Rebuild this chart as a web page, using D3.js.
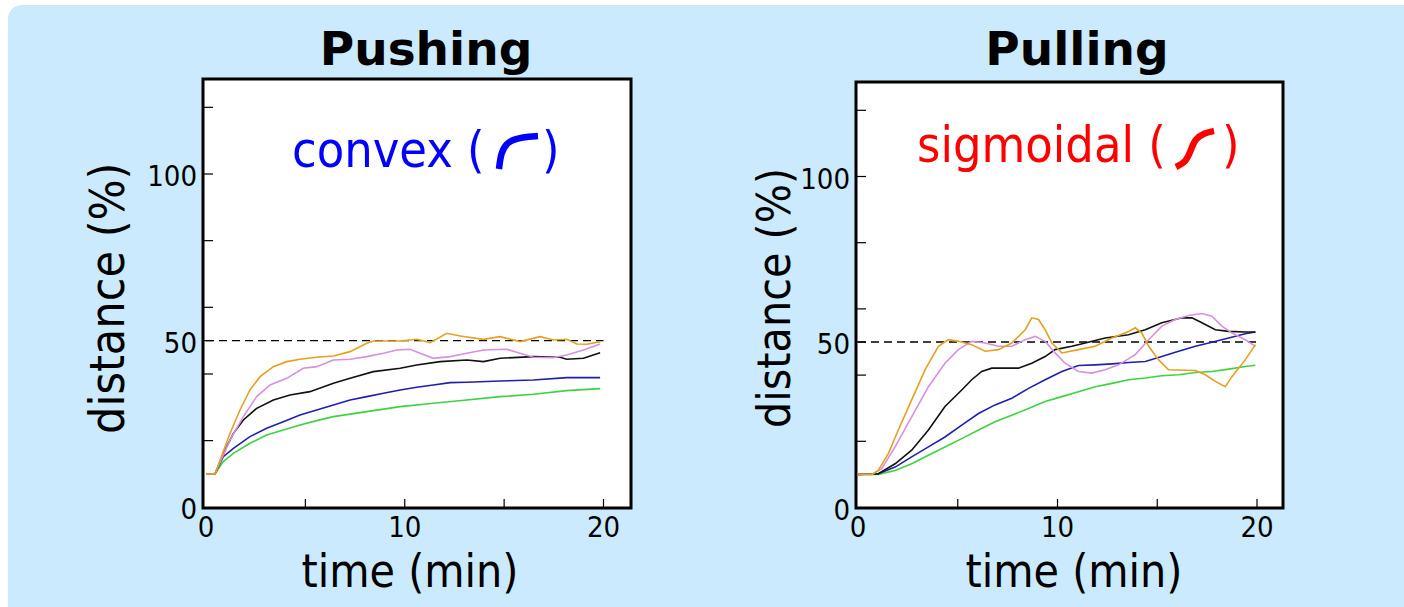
<!DOCTYPE html>
<html>
<head>
<meta charset="utf-8">
<script src="https://cdn.jsdelivr.net/npm/d3@7/dist/d3.min.js"></script>
<style>
    body { margin: 0; background: #fff; }
    svg text { font-family: 'DejaVu Sans Condensed', 'DejaVu Sans', sans-serif; font-stretch: condensed; }
</style>
</head>
<body>
<svg id="chart"></svg>
<script>
// tick values
const timeLabels = [0, 10, 20];
const timeMarks = [5, 10, 15, 20];
const distLabels = [0, 50, 100];
const distMarks = [20, 40, 50, 60, 80, 100, 120];

// [time (min), distance (%)]
const pushOrange = [[0,10],[0.45,10],[1.21,22.2],[1.71,29.2],[2.21,35.2],[2.72,39.2],[3.39,42.2],[4.06,43.7],[4.73,44.4],[5.57,45],[6.41,45.4],[7.25,46.7],[8.09,49.2],[8.42,49.9],[9.77,49.9],[10.6,50.4],[11.28,49.4],[12.11,52.2],[12.79,51.4],[13.96,50.4],[14.8,51.2],[15.8,49.7],[16.8,51.2],[17.5,50.2],[18.15,50.4],[18.66,49],[19.16,48.9],[19.83,49.7]];
const pushViolet = [[0,10],[0.45,10],[1.21,20.2],[1.88,27.2],[2.55,33.2],[3.22,36.7],[4.06,38.7],[4.9,41.7],[5.57,42.2],[6.41,44.2],[7.25,44.4],[8.09,45.2],[8.93,46.2],[9.6,47.2],[10.27,47.4],[10.77,46.2],[11.44,44.7],[12.28,45.2],[13.12,46.2],[13.96,47.2],[15.13,47.4],[15.8,46.2],[16.47,45],[17.48,44.9],[18.15,45.7],[18.99,47.2],[19.83,49]];
const pushBlack = [[0,10],[0.45,10],[1.04,18.2],[1.38,22.2],[1.88,26.2],[2.55,29.7],[3.39,32.2],[4.23,33.7],[5.23,34.7],[6.41,37.2],[7.25,38.7],[8.42,40.7],[9.77,41.7],[10.6,42.7],[11.78,43.7],[13.12,44.2],[13.96,43.7],[14.8,44.7],[16.47,45.2],[17.82,45],[18.15,44.4],[18.99,44.7],[19.83,46.4]];
const pushBlue = [[0,10],[0.45,10],[0.87,15.2],[1.38,17.7],[2.21,21.2],[3.05,23.7],[3.89,25.7],[4.73,27.7],[5.57,29.2],[6.41,30.7],[7.25,32.2],[8.09,33.2],[8.93,34.2],[9.77,35.2],[10.6,36],[11.44,36.7],[12.28,37.4],[13.12,37.5],[14.8,37.9],[16.47,38.2],[18.15,38.9],[19.83,38.9]];
const pushGreen = [[0,10],[0.45,10],[0.87,13.7],[1.38,16.2],[2.21,19.2],[3.05,21.7],[3.89,23.2],[4.73,24.7],[5.57,26],[6.41,27.2],[8.09,28.7],[9.77,30.2],[11.44,31.2],[13.12,32.2],[14.8,33.2],[16.47,33.9],[18.15,35],[19.83,35.6]];

const pullOrange = [[0,10],[0.69,10],[1.02,11.2],[1.52,16.3],[2.02,23.4],[2.69,32.5],[3.36,41.6],[4.03,48.7],[4.53,50.7],[5.03,50.2],[5.7,49.2],[6.37,47.2],[7.04,47.7],[7.71,49.7],[8.38,53.7],[8.71,57.3],[9.05,56.8],[9.38,53.7],[9.72,49.7],[10.22,46.7],[11.05,47.7],[11.89,48.7],[12.73,51.2],[13.56,53.2],[13.9,54.3],[14.23,52.7],[14.57,48.7],[15.07,44.6],[15.57,41.6],[16.91,41.4],[17.41,40.1],[17.91,38.1],[18.41,36.5],[18.75,39.6],[19.41,44.6],[19.92,49.2]];
const pullViolet = [[0,10],[0.69,10],[1.19,11.7],[1.86,18.3],[2.69,27.4],[3.53,36.5],[4.36,43.6],[5.03,47.7],[5.7,50.2],[6.37,49.7],[7.04,48.7],[7.71,48.7],[8.38,50.7],[8.88,51.7],[9.38,50.2],[9.88,46.7],[10.38,43.6],[11.05,41.1],[11.72,40.6],[12.39,41.6],[13.06,43.1],[13.9,46.2],[14.57,50.7],[15.23,54.8],[15.9,56.8],[16.57,58],[17.24,58.6],[17.74,57.8],[18.24,54.8],[18.75,52.7],[19.41,50.7],[19.92,48.7]];
const pullBlack = [[0,10],[1.02,10.2],[1.86,13.2],[2.69,17.3],[3.53,23.4],[4.36,30.5],[5.2,35.5],[5.7,38.6],[6.2,41.1],[6.71,42.1],[7.37,42.1],[8.04,42.1],[8.71,43.6],[9.38,45.6],[9.88,47.7],[10.72,48.7],[11.39,49.7],[12.39,51.2],[13.56,52.2],[14.4,53.7],[15.23,55.8],[16.24,57.3],[16.74,57.3],[17.24,55.8],[17.91,53.7],[18.58,53.2],[19.41,53],[19.92,53]];
const pullBlue = [[0,10],[1.02,10.2],[1.86,12.2],[2.69,15.3],[3.53,18.3],[4.36,21.3],[5.2,24.9],[6.04,28.4],[6.87,31],[7.71,33],[8.55,36],[9.38,38.6],[10.22,41.1],[11.05,42.9],[11.89,43.1],[12.73,43.4],[13.56,43.8],[14.4,44.1],[15.23,45.6],[16.07,47.2],[16.91,48.7],[17.74,49.9],[18.58,51.2],[19.41,52.5],[19.92,53]];
const pullGreen = [[0,10],[1.02,10],[1.86,11.2],[2.69,13.2],[3.53,15.8],[4.36,18.3],[5.2,20.8],[6.04,23.4],[6.87,25.9],[7.71,27.9],[8.55,29.9],[9.38,32],[10.22,33.5],[11.05,35],[11.89,36.5],[12.73,37.5],[13.56,38.6],[14.4,39.1],[15.23,39.8],[16.07,40.1],[16.91,40.8],[17.74,41.1],[18.58,41.8],[19.41,42.6],[19.92,43]];

const seriesColors = ['#3fd23f', '#1f1fb0', '#111111', '#d88fe0', '#e6a020'];
const referenceLevel = 50;

class CurvePanel {
    constructor(_config, _series) {
        this.config = _config;
        this.series = _series;
        this.initVis();
    }

    initVis() {
        let vis = this;
        let c = vis.config;

        vis.xScale = d3.scaleLinear().domain([0, 20]).range(c.xRange);
        vis.yScale = d3.scaleLinear().domain([0, 100]).range(c.yRange);

        vis.g = d3.select(c.parentElement).append('g');

        // white plot box
        vis.g.append('rect')
            .attr('x', c.frame[0])
            .attr('y', c.frame[1])
            .attr('width', c.frame[2] - c.frame[0])
            .attr('height', c.frame[3] - c.frame[1])
            .attr('fill', '#fff')
            .attr('stroke', '#000')
            .attr('stroke-width', 3);

        // inward ticks
        vis.g.selectAll('.ytick')
            .data(distMarks)
            .join('line')
            .attr('class', 'ytick')
            .attr('x1', c.frame[0]).attr('x2', c.frame[0] + 10)
            .attr('y1', d => vis.yScale(d)).attr('y2', d => vis.yScale(d))
            .attr('stroke', '#000').attr('stroke-width', 1.2);

        vis.g.selectAll('.xtick')
            .data(timeMarks)
            .join('line')
            .attr('class', 'xtick')
            .attr('x1', d => vis.xScale(d)).attr('x2', d => vis.xScale(d))
            .attr('y1', c.frame[3]).attr('y2', c.frame[3] - 9)
            .attr('stroke', '#000').attr('stroke-width', 1.2);

        vis.g.selectAll('.ylab')
            .data(distLabels)
            .join('text')
            .attr('class', 'ylab')
            .attr('x', c.frame[0] - 6)
            .attr('y', d => vis.yScale(d) + 12)
            .attr('text-anchor', 'end')
            .style('font-size', '29px')
            .text(d => d);

        vis.g.selectAll('.xlab')
            .data(timeLabels)
            .join('text')
            .attr('class', 'xlab')
            .attr('x', d => vis.xScale(d))
            .attr('y', 537)
            .attr('text-anchor', 'middle')
            .style('font-size', '29px')
            .text(d => d);

        // axis titles
        vis.g.append('text')
            .attr('x', c.xTitleX)
            .attr('y', 587)
            .attr('text-anchor', 'middle')
            .style('font-size', '46px')
            .text('time (min)');

        vis.g.append('text')
            .attr('transform', `translate(${c.yTitle[0]},${c.yTitle[1]}) rotate(-90)`)
            .style('font-size', c.yTitleSize)
            .text('distance (%)');

        vis.g.append('text')
            .attr('x', c.titleX)
            .attr('y', 65)
            .attr('text-anchor', 'middle')
            .style('font-family', "'DejaVu Sans', sans-serif")
            .style('font-stretch', 'normal')
            .style('font-weight', 'bold')
            .style('font-size', '47px')
            .text(c.title);

        // shape annotation: "name (" icon ")"
        vis.g.append('text')
            .attr('x', c.noteX)
            .attr('y', c.noteY)
            .attr('fill', c.noteColor)
            .style('font-size', '50px')
            .text(c.note + ' (');
        vis.g.append('text')
            .attr('x', c.closeX)
            .attr('y', c.noteY)
            .attr('fill', c.noteColor)
            .style('font-size', '50px')
            .text(')');
        vis.g.append('path')
            .attr('d', d3.line().curve(d3.curveBasis)(c.icon))
            .attr('fill', 'none')
            .attr('stroke', c.noteColor)
            .attr('stroke-width', 6.5);

        vis.renderVis();
    }

    renderVis() {
        let vis = this;

        vis.g.append('line')
            .attr('x1', vis.xScale(0)).attr('x2', vis.xScale(20))
            .attr('y1', vis.yScale(referenceLevel)).attr('y2', vis.yScale(referenceLevel))
            .attr('stroke', '#000')
            .attr('stroke-width', 1.3)
            .attr('stroke-dasharray', '8,5');

        let line = d3.line()
            .x(d => vis.xScale(d[0]))
            .y(d => vis.yScale(d[1]));

        vis.g.selectAll('.curve')
            .data(vis.series)
            .join('path')
            .attr('class', 'curve')
            .attr('d', line)
            .attr('fill', 'none')
            .attr('stroke', (d, i) => seriesColors[i])
            .attr('stroke-width', 1.6);
    }
}

const svg = d3.select('#chart')
    .attr('width', 1404)
    .attr('height', 607);

svg.append('rect')
    .attr('x', 8).attr('y', 5)
    .attr('width', 1420).attr('height', 640)
    .attr('rx', 14)
    .attr('fill', '#cbeafd');

new CurvePanel({
    parentElement: '#chart',
    frame: [203, 79, 631, 508],
    xRange: [206, 603.5],
    yRange: [507.3, 174],
    title: 'Pushing', titleX: 426,
    note: 'convex', noteColor: '#0000ff', noteX: 292, noteY: 167, closeX: 542,
    icon: [[499, 169], [501, 152], [508, 141], [523, 137], [538, 136]],
    xTitleX: 410, yTitle: [124, 434], yTitleSize: '48px'
}, [pushGreen, pushBlue, pushBlack, pushViolet, pushOrange]);

new CurvePanel({
    parentElement: '#chart',
    frame: [856, 82, 1283, 508],
    xRange: [858, 1257],
    yRange: [507.5, 176.5],
    title: 'Pulling', titleX: 1077,
    note: 'sigmoidal', noteColor: '#ff0000', noteX: 917, noteY: 162, closeX: 1222,
    icon: [[1176, 167], [1186, 162], [1191, 150], [1195, 139], [1204, 133], [1214, 131]],
    xTitleX: 1074, yTitle: [790, 428], yTitleSize: '46px'
}, [pullGreen, pullBlue, pullBlack, pullViolet, pullOrange]);
</script>
</body>
</html>
